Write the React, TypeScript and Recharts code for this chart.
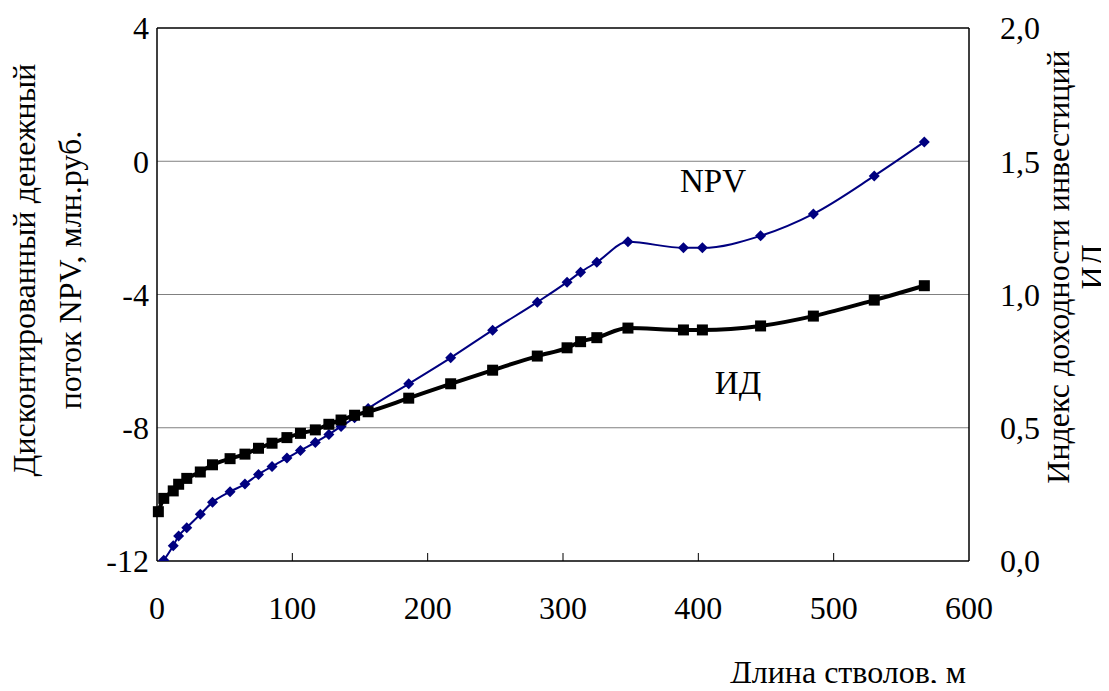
import { LineChart, Line, XAxis, YAxis, ReferenceLine } from 'recharts'

// длина стволов, м
const LENGTHS = [1, 5, 12, 16, 22, 32, 41, 54, 65, 75, 85, 96, 106, 117, 127, 136, 146, 156, 186, 217, 248, 281, 303, 313, 325, 348, 389, 403, 446, 485, 530, 567]
// NPV, млн.руб. (первой точки нет)
const NPV = [null, -11.98, -11.54, -11.25, -11.0, -10.6, -10.24, -9.92, -9.69, -9.4, -9.16, -8.91, -8.68, -8.44, -8.2, -7.96, -7.7, -7.42, -6.68, -5.9, -5.07, -4.23, -3.63, -3.33, -3.03, -2.42, -2.6, -2.6, -2.24, -1.58, -0.44, 0.58]
// индекс доходности
const ID = [0.185, 0.235, 0.263, 0.288, 0.31, 0.334, 0.361, 0.384, 0.401, 0.423, 0.442, 0.463, 0.479, 0.492, 0.513, 0.529, 0.547, 0.56, 0.611, 0.665, 0.716, 0.769, 0.8, 0.823, 0.838, 0.874, 0.867, 0.867, 0.882, 0.919, 0.979, 1.033]

const X_TICKS = [0, 100, 200, 300, 400, 500, 600]
const NPV_TICKS = [-12, -8, -4, 0, 4]
const ID_TICKS = [0, 0.5, 1, 1.5, 2]

const data = LENGTHS.map((len, i) => ({ len, npv: NPV[i], id: ID[i] }))

const FONT = '"Liberation Serif", "Times New Roman", serif'
const tickStyle = { fontSize: 32, fill: '#000', fontFamily: FONT }

const XTick = ({ x, y, payload }: any) => (
  <g>
    {payload.value > 0 && payload.value < 600 && (
      <line x1={x} x2={x} y1={y} y2={y - 8} stroke="#000" strokeWidth={1} />
    )}
    <text x={x} y={y + 58} textAnchor="middle" style={tickStyle}>
      {payload.value}
    </text>
  </g>
)

const Diamond = ({ cx, cy }: any) => {
  if (cx == null || cy == null) return <g />
  const r = 5.5
  return <polygon points={`${cx},${cy - r} ${cx + r},${cy} ${cx},${cy + r} ${cx - r},${cy}`} fill="#000080" />
}

const Square = ({ cx, cy }: any) => {
  if (cx == null || cy == null) return <g />
  return <rect x={cx - 5.5} y={cy - 5.5} width={11} height={11} fill="#000" />
}

const label = (left: number, top: number, extra: any = {}) => ({
  position: 'absolute' as const,
  left,
  top,
  transform: 'translate(-50%, -50%)',
  fontSize: 32,
  whiteSpace: 'nowrap' as const,
  ...extra,
})

export default function App() {
  return (
    <div style={{ position: 'relative', margin: -8, width: 1109, height: 691, overflow: 'hidden', fontFamily: FONT }}>
      <LineChart
        width={1109}
        height={691}
        data={data}
        margin={{ top: 28, right: 0, bottom: 70, left: 0 }}
      >
        <XAxis
          dataKey="len"
          type="number"
          domain={[0, 600]}
          ticks={X_TICKS}
          axisLine={{ stroke: '#000', strokeWidth: 1.5 }}
          tickLine={false}
          tickSize={0}
          tickMargin={0}
          height={60}
          tick={<XTick />}
        />
        <YAxis
          yAxisId="npv"
          domain={[-12, 4]}
          ticks={NPV_TICKS}
          allowDataOverflow
          width={157}
          tickLine={false}
          tickSize={0}
          tickMargin={8}
          axisLine={{ stroke: '#000', strokeWidth: 1.5 }}
          tick={tickStyle}
        />
        <YAxis
          yAxisId="id"
          orientation="right"
          domain={[0, 2]}
          ticks={ID_TICKS}
          width={140}
          tickLine={false}
          tickSize={0}
          tickMargin={31}
          axisLine={{ stroke: '#000', strokeWidth: 1.5 }}
          tick={tickStyle}
          tickFormatter={(v: number) => v.toFixed(1).replace('.', ',')}
        />
        {[-8, -4, 0].map((v) => (
          <ReferenceLine key={v} yAxisId="npv" y={v} stroke="#808080" strokeWidth={1} />
        ))}
        <ReferenceLine yAxisId="npv" y={4} stroke="#000" strokeWidth={1.5} />
        <Line
          yAxisId="npv"
          dataKey="npv"
          type="monotone"
          stroke="#000080"
          strokeWidth={2}
          dot={<Diamond />}
          activeDot={false}
          connectNulls
          isAnimationActive={false}
        />
        <Line
          yAxisId="id"
          dataKey="id"
          type="monotone"
          stroke="#000"
          strokeWidth={4}
          dot={<Square />}
          activeDot={false}
          isAnimationActive={false}
        />
      </LineChart>

      <div style={label(713, 181, { fontSize: 33 })}>NPV</div>
      <div style={label(738, 383, { fontSize: 33 })}>ИД</div>
      <div style={label(848, 672)}>Длина стволов, м</div>
      <div
        style={label(47, 270, {
          transform: 'translate(-50%, -50%) rotate(-90deg)',
          lineHeight: '46px',
          textAlign: 'center',
        })}
      >
        Дисконтированный денежный
        <br />
        поток NPV, млн.руб.
      </div>
      <div
        style={label(1075, 267, {
          transform: 'translate(-50%, -50%) rotate(-90deg)',
          lineHeight: '34px',
          textAlign: 'center',
        })}
      >
        Индекс доходности инвестиций
        <br />
        ИД
      </div>
    </div>
  )
}
